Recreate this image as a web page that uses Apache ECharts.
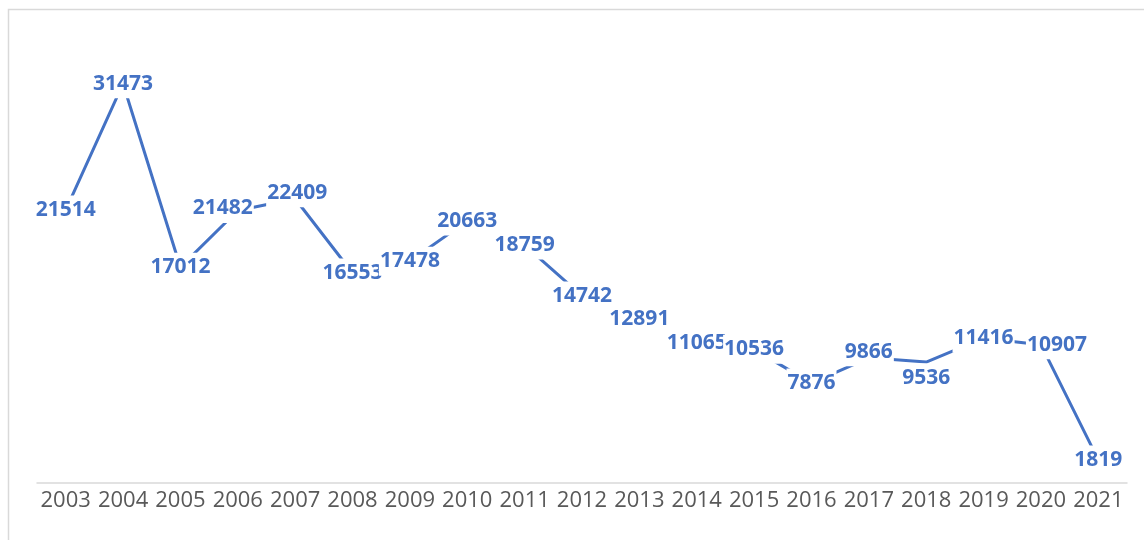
<!DOCTYPE html>
<html>
<head>
<meta charset="utf-8">
<script src="https://cdn.jsdelivr.net/npm/echarts@6/dist/echarts.min.js"></script>
<style>
    html, body { margin: 0; padding: 0; background: #fff; }
    #chart { width: 1144px; height: 540px; }
</style>
</head>
<body>
<div id="chart"></div>
<script>
// 年份
const years = ['2003', '2004', '2005', '2006', '2007', '2008', '2009', '2010', '2011', '2012',
    '2013', '2014', '2015', '2016', '2017', '2018', '2019', '2020', '2021']
// 数值
const values = [21514, 31473, 17012, 21482, 22409, 16553, 17478, 20663, 18759, 14742,
    12891, 11065, 10536, 7876, 9866, 9536, 11416, 10907, 1819]

const blue = '#4472C4'

// 手动挪过位置的数据标签 (像素偏移)
const labelNudge = {
    '2006': [-15, -2],
    '2007': [2, -6],
    '2017': [0, -6],
    '2018': [0, 16],
    '2020': [16, 0]
}

const seriesData = values.map((v, i) => {
    const item = { value: v }
    if (labelNudge[years[i]]) {
        item.label = { offset: labelNudge[years[i]] }
    }
    return item
})

const chart = echarts.init(document.getElementById('chart'))
chart.setOption({
    animation: false,
    graphic: [{
        type: 'rect',
        shape: { x: 8.5, y: 9.5, width: 1300, height: 700 },
        style: { fill: 'none', stroke: '#d9d9d9', lineWidth: 1.5 },
        silent: true
    }],
    grid: {
        top: 39,
        left: 37,
        right: 17,
        bottom: 57
    },
    xAxis: {
        type: 'category',
        data: years,
        boundaryGap: true,
        axisLine: { lineStyle: { color: '#d9d9d9', width: 1.5 } },
        axisTick: { show: false },
        axisLabel: {
            color: '#595959',
            fontFamily: 'Open Sans',
            fontSize: 22,
            margin: 7,
            interval: 0
        }
    },
    yAxis: {
        type: 'value',
        min: 0,
        max: 35000,
        show: false,
        splitLine: { show: false }
    },
    series: [{
        type: 'line',
        data: seriesData,
        symbol: 'circle',
        symbolSize: 2,
        itemStyle: { color: blue },
        lineStyle: { color: blue, width: 3 },
        label: {
            show: true,
            position: 'inside',
            color: blue,
            fontFamily: 'Open Sans',
            fontWeight: 'bold',
            fontSize: 21,
            lineHeight: 21,
            backgroundColor: '#fff',
            padding: [4, 1]
        }
    }]
})
</script>
</body>
</html>
